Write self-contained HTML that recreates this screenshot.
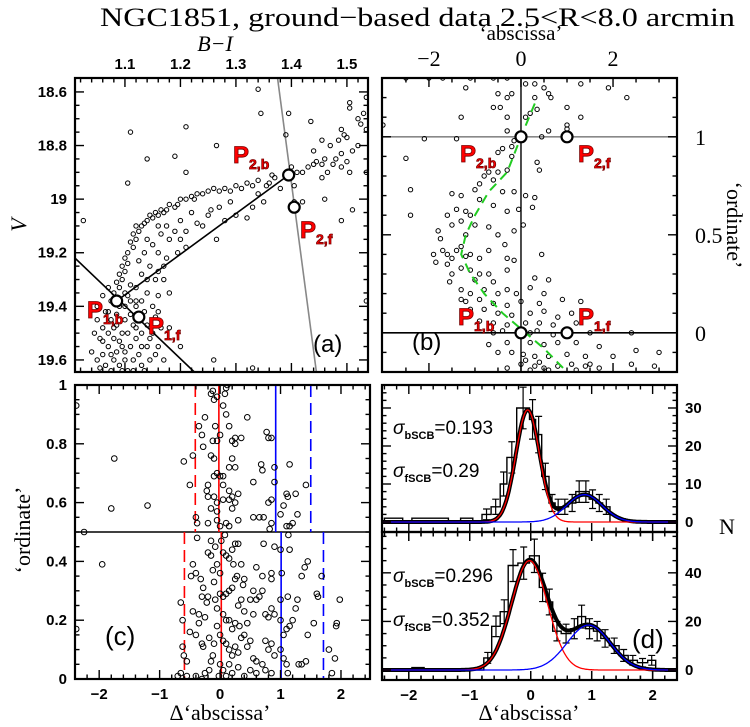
<!DOCTYPE html>
<html><head><meta charset="utf-8"><style>
html,body{margin:0;padding:0;background:#fff;}
svg{display:block;font-family:"Liberation Sans",sans-serif;}
.tl{font-weight:bold;font-size:15px;}
</style></head><body>
<svg id="fig" width="750" height="727" viewBox="0 0 750 727" xmlns="http://www.w3.org/2000/svg">
<text x="100" y="26" font-family="Liberation Serif, serif" font-size="26" textLength="635" lengthAdjust="spacingAndGlyphs">NGC1851, ground−based data 2.5&lt;R&lt;8.0 arcmin</text>
<text x="215" y="51" font-family="Liberation Serif, serif" font-style="italic" font-size="22" text-anchor="middle">B−I</text>
<text x="26" y="225" font-family="Liberation Serif, serif" font-style="italic" font-size="22" text-anchor="middle" transform="rotate(-90 26 225)">V</text>
<text x="521" y="40" font-family="Liberation Serif, serif" font-size="21" text-anchor="middle">‘abscissa’</text>
<text x="727" y="225" font-family="Liberation Serif, serif" font-size="22" text-anchor="middle" transform="rotate(90 727 225)">‘ordinate’</text>
<text x="30" y="530" font-family="Liberation Serif, serif" font-size="22" text-anchor="middle" transform="rotate(-90 30 530)">‘ordinate’</text>
<text x="220" y="720" font-family="Liberation Serif, serif" font-size="22" text-anchor="middle">Δ‘abscissa’</text>
<text x="529" y="720" font-family="Liberation Serif, serif" font-size="22" text-anchor="middle">Δ‘abscissa’</text>
<text x="727" y="534" font-family="Liberation Serif, serif" font-size="22" text-anchor="middle">N</text>
</svg>
<script>
// ---------- data ----------
const cmdBI=[1.34,1.345,1.11,1.21,1.14,1.265,1.19,1.21,1.395,1.39,1.435,1.105,1.025,1.26,1.33,1.535,1.51,1.49,1.46,
1.505,1.505,1.52,1.53,1.535,1.525,1.535,1.49,1.495,1.485,1.47,1.5,1.52,1.51,1.49,1.455,1.44,1.46,1.48,1.475,1.5,1.505,1.49,1.455,1.44,1.43,1.42,1.455,1.445,1.535,1.465,1.41,1.4,1.405,1.42,1.405,
1.37,1.36,1.365,1.355,1.34,1.33,1.32,1.31,1.3,1.29,1.28,1.27,1.26,1.25,1.24,1.23,1.225,1.22,1.21,1.2,1.195,1.19,1.18,1.175,1.17,1.165,1.16,1.155,1.15,1.145,1.14,1.135,1.13,1.125,1.12,1.115,1.12,1.11,1.115,1.105,1.1,1.105,1.095,1.1,1.09,1.095,1.085,1.09,1.08,1.085,
1.29,1.27,1.33,1.35,1.32,1.3,1.28,1.25,1.23,1.22,1.2,1.19,1.175,1.16,1.165,1.18,1.2,1.21,1.195,1.175,1.16,1.15,1.14,1.135,1.145,1.16,1.17,1.155,1.14,1.13,1.125,1.12,1.14,1.15,1.13,1.12,1.11,1.105,1.1,1.24,1.21,1.255,1.34,1.38,1.265,1.18,1.16,1.17,
1.04,1.05,1.05,1.055,1.06,1.06,1.065,1.065,1.07,1.07,1.075,1.075,1.08,1.08,1.085,1.085,1.085,1.09,1.09,1.095,1.095,1.1,1.1,1.1,1.105,1.105,1.11,1.11,1.115,1.115,1.12,1.12,1.125,1.125,1.13,1.13,1.135,1.14,1.14,1.145,1.15,1.155,1.16,1.165,1.17,1.05,1.06,1.07,1.045,1.055,1.075,1.095,1.115,1.135,1.1,1.09,1.08,1.07,1.06,1.075,1.11,1.12,1.13,1.145,1.155,1.16,1.2,1.18];
const cmdV=[18.59,18.68,18.75,18.73,18.85,18.8,18.84,18.9,18.68,18.76,18.71,18.94,19.08,19.6,19.63,19.38,19.04,19.08,19.0,
18.64,18.66,18.7,18.68,18.62,18.72,18.74,18.74,18.76,18.78,18.8,18.77,18.8,18.82,18.83,18.78,18.82,18.85,18.85,18.87,18.86,18.9,18.88,18.87,18.87,18.88,18.9,18.92,18.86,18.9,18.9,18.9,18.88,18.95,19.01,19.01,
18.92,18.94,18.91,18.95,18.93,18.95,18.94,18.96,18.95,18.97,18.96,18.97,18.96,18.97,18.98,18.98,19.0,18.99,19.0,19.0,19.02,19.03,19.02,19.04,19.05,19.04,19.06,19.05,19.07,19.06,19.08,19.09,19.1,19.12,19.1,19.13,19.15,19.16,19.18,19.2,19.22,19.24,19.25,19.27,19.28,19.3,19.31,19.33,19.35,19.37,
19.01,19.03,19.03,19.01,19.07,19.06,19.08,19.06,19.09,19.05,19.08,19.12,19.1,19.1,19.13,19.15,19.15,19.18,19.2,19.22,19.2,19.17,19.15,19.2,19.25,19.27,19.25,19.3,19.3,19.28,19.23,19.33,19.35,19.4,19.38,19.4,19.32,19.36,19.4,19.1,19.12,19.04,18.98,18.96,19.15,19.35,19.36,19.3,
19.57,19.45,19.6,19.52,19.48,19.58,19.62,19.42,19.5,19.55,19.38,19.45,19.6,19.52,19.43,19.47,19.57,19.62,19.4,19.5,19.55,19.45,19.6,19.35,19.5,19.64,19.43,19.55,19.47,19.6,19.52,19.38,19.58,19.45,19.5,19.62,19.42,19.55,19.47,19.6,19.5,19.44,19.55,19.48,19.6,19.4,19.36,19.33,19.5,19.63,19.64,19.64,19.64,19.64,19.57,19.53,19.48,19.42,19.53,19.58,19.38,19.48,19.55,19.52,19.58,19.42,19.55,19.48];
const cmdRefBI=[1.085,1.125,1.395,1.405];
const cmdRefV=[19.38,19.44,18.91,19.03];

const vbX=[-2.5,-2,-1.7,-1.1,-0.6,-0.3,0.1,0.3,0.5,0.6,0.65,-1.2,-0.5,-0.3,-0.2,0.3,0.35,0.2,0.1,-0.3,-0.6,-0.45,1.3,1.9,2.3,1.0,1.3,-1.3,-3.0,0.6,0.45,-2.1,-1.4,1.0,1.0,-0.3,-0.15,-0.2,
-2.5,-0.5,-0.4,-0.2,0.35,0.4,-0.3,-0.5,-0.7,-0.8,-0.6,-0.9,-1.0,-0.4,-0.15,-2.4,-1.5,-1.3,-0.9,-1.2,-1.1,-1.4,-1.6,0.1,0.3,-2.4,-0.6,-0.3,-0.05,0.25,-1.3,-1.5,-1.8,-1.75,-1.2,-1.0,-0.7,-0.5,-0.15,0.05,-1.7,-1.6,-1.5,-1.4,-1.3,-1.2,-1.9,-1.85,-1.6,-1.1,-0.9,-0.7,-0.35,-0.3,-0.15,0.45,-1.3,-1.1,-0.9,-1.5,-1.0,-0.7,-0.6,-0.3,-1.55,-1.3,-1.1,-0.8,-0.5,-0.3,-0.1,0.3,0.6,0.2,0.5,-1.3,-1.2,-0.9,-0.6,-0.3,0,0.4,0.9,1.3,-1.1,-0.8,-0.5,-0.2,0.2,0.5,0.8,1.1,-0.9,-0.6,-0.3,0.1,0.4,0.7,1.2,-0.6,-0.4,0.2,0.35,0.7,1.5,2.4,-0.7,-0.3,0.2,0.5,0.8,1.2,1.7,2.5,3.0,-0.5,-0.2,0.05,0.3,0.6,1.0,1.4,2.0,0.0,0.3,0.5,0.8,1.1,1.4,1.7,2.4,2.9,-0.3,0.2,0.6,1.2,1.5,0.1,0.4];
const vbY=[1.3,1.3,1.3,1.3,1.3,1.3,1.27,1.27,1.25,1.22,1.2,1.25,1.22,1.2,1.22,1.2,1.14,1.12,1.1,1.1,1.15,1.15,1.27,1.25,1.2,1.15,1.1,1.1,1.06,1.03,1.0,0.99,0.99,1.04,1.06,1.03,0.98,0.95,
0.89,0.92,0.94,0.9,0.87,0.83,0.83,0.82,0.82,0.8,0.78,0.76,0.73,0.72,0.72,0.73,0.71,0.7,0.68,0.62,0.6,0.63,0.6,0.7,0.69,0.6,0.65,0.62,0.63,0.64,0.57,0.55,0.52,0.48,0.5,0.55,0.54,0.5,0.52,0.55,0.42,0.4,0.38,0.42,0.44,0.39,0.4,0.36,0.35,0.4,0.38,0.42,0.45,0.38,0.37,0.4,0.33,0.32,0.3,0.3,0.27,0.3,0.26,0.32,0.26,0.22,0.2,0.22,0.2,0.22,0.2,0.28,0.27,0.23,0.2,0.17,0.16,0.17,0.15,0.14,0.16,0.15,0.17,0.16,0.12,0.12,0.1,0.09,0.1,0.11,0.08,0.1,0.06,0.05,0.04,0.05,0.05,0.04,0.05,0.0,0.01,0.0,0.01,-0.01,0.0,0.0,-0.06,-0.05,-0.05,-0.06,-0.05,-0.05,-0.07,-0.09,-0.1,-0.1,-0.1,-0.11,-0.12,-0.12,-0.11,-0.12,-0.12,-0.16,-0.17,-0.18,-0.17,-0.16,-0.17,-0.18,-0.16,-0.17,-0.18,-0.19,-0.19,-0.19,-0.16,-0.14,-0.15];
const ridgeX=[0.3,0,-0.3,-0.7,-1.0,-1.2,-1.3,-1.1,-0.8,-0.4,0,0.5,1.0];
const ridgeY=[1.17,1.0,0.82,0.72,0.6,0.5,0.4,0.3,0.2,0.1,0.02,-0.08,-0.2];
const refAX=[0,1,0,1];
const refAY=[1,1,0,0];

const cX=[-2.38,-1.75,-1.8,-1.2,-2.25,-0.6,-0.45,-0.5,-0.35,-0.3,-0.28,-0.4,-0.38,-0.2,-0.22,-0.15,-0.12,-0.1,-0.05,-0.08,-0.12,-0.15,-0.1,-0.05,0.0,0.05,0.1,0.15,0.2,0.25,0.25,0.35,0.45,0.1,0.12,0.08,-0.05,-0.1,0.0,0.05,-0.2,-0.1,-0.05,0.05,0.15,0.2,0.25,0.3,0.2,-0.05,-0.15,0.25,0.15,0.2,-0.05,-0.2,0.1,0.15,0.3,0.0,0.15,0.05,0.55,0.55,0.65,0.72,0.68,0.7,0.77,0.8,0.85,0.9,0.9,0.85,0.8,0.85,0.82,1.0,1.05,1.1,1.12,1.15,1.25,1.28,1.1,1.2,1.15,1.42,-0.25,
-1.95,-2.38,-0.65,-0.62,-0.62,-0.6,-0.55,-0.5,-0.48,-0.45,-0.45,-0.4,-0.38,-0.35,-0.3,-0.28,-0.25,-0.2,-0.2,-0.15,-0.12,-0.1,-0.08,-0.05,-0.05,-0.1,-0.12,-0.15,-0.18,-0.25,-0.3,-0.4,-0.55,-0.65,-0.7,-0.15,-0.08,-0.05,0.0,0.05,0.1,0.15,0.2,0.22,0.25,0.3,0.35,0.4,0.38,0.28,0.25,0.2,0.15,0.1,0.05,0.0,0.05,0.1,0.15,0.2,0.25,0.3,0.35,0.4,0.45,0.5,0.55,0.6,0.65,0.7,0.75,0.8,0.85,0.9,0.0,0.05,0.1,0.15,0.2,0.25,0.3,0.35,0.4,0.45,0.5,0.55,0.6,0.7,0.75,0.8,0.85,0.9,0.0,0.05,0.1,0.2,0.3,0.4,0.5,0.6,0.75,0.85,0.9,0.72,0.85,0.85,1.0,1.02,1.0,1.0,1.05,1.0,1.05,1.1,1.12,1.1,1.15,1.2,1.25,1.28,1.35,1.3,1.35,1.42,1.4,1.45,1.45,1.55,1.6,1.62,1.68,1.8,1.85,1.9,1.92,1.93,1.98,1.13,1.15,1.12,0.55,0.7,0.6,-0.3,-0.35,-0.4,-0.28,-0.22,-0.18,-0.32,0.02,0.08,-0.02,0.15,0.32];
const cY=[0.93,0.75,0.58,0.59,0.5,0.74,0.76,0.66,0.86,0.83,0.79,0.55,0.53,0.66,0.64,0.97,0.98,0.95,0.96,0.86,0.81,0.76,0.75,0.81,0.83,0.93,0.9,0.86,0.81,0.8,0.82,0.82,0.89,0.99,1.0,0.97,0.7,0.69,0.69,0.69,0.62,0.62,0.6,0.61,0.61,0.62,0.6,0.63,0.58,0.57,0.58,0.72,0.72,0.75,0.54,0.53,0.53,0.52,0.54,0.52,0.64,0.66,0.67,0.55,0.55,0.55,0.73,0.71,0.84,0.82,0.82,0.72,0.67,0.61,0.6,0.53,0.51,0.56,0.59,0.63,0.62,0.73,0.63,0.56,0.52,0.53,0.52,0.66,0.89,
0.39,0.17,0.26,0.2,0.11,0.08,0.06,0.16,0.35,0.39,0.23,0.36,0.48,0.19,0.12,0.11,0.21,0.28,0.43,0.42,0.37,0.33,0.27,0.24,0.18,0.12,0.08,0.06,0.03,0.02,0.0,0.01,0.01,0.02,0.01,0.47,0.45,0.39,0.36,0.43,0.42,0.41,0.44,0.39,0.46,0.46,0.39,0.34,0.32,0.35,0.34,0.31,0.3,0.29,0.28,0.29,0.22,0.2,0.2,0.17,0.19,0.25,0.27,0.23,0.19,0.27,0.22,0.27,0.28,0.3,0.22,0.21,0.24,0.22,0.15,0.13,0.12,0.1,0.08,0.11,0.09,0.14,0.15,0.11,0.13,0.07,0.06,0.05,0.13,0.1,0.12,0.08,0.05,0.03,0.01,0.02,0.04,0.01,0.03,0.02,0.03,0.02,0.45,0.46,0.36,0.34,0.44,0.36,0.27,0.2,0.15,0.1,0.07,0.05,0.02,0.17,0.18,0.2,0.24,0.27,0.35,0.05,0.05,0.06,0.38,0.4,0.15,0.19,0.29,0.28,0.35,0.1,0.02,0.07,0.18,0.19,0.27,0.49,0.44,0.28,0.3,0.35,0.38,0.28,0.22,0.15,0.31,0.26,0.14,0.34,0.47,0.49,0.01,0.05,0.18];
const cLineX=[-0.02,0.02,-0.41,-0.59,0.92,1.01,1.5,1.71];
const cLineLo=[0.5,0,0.5,0,0.5,0,0.5,0];
const cLineHi=[1,0.5,1,0.5,1,0.5,1,0.5];
const cLineColor=['red','red','red','red','blue','blue','blue','blue'];
const cLineDash=[0,0,1,1,0,0,1,1];

const hEdgesTop=[-2.4,-2.1,-1.95,-1.35,-1.15,-0.95,-0.8,-0.65,-0.5,-0.39,-0.23,-0.02,0.08,0.18,0.3,0.4,0.5,0.62,0.74,0.85,0.96,1.07,1.18,1.3];
const hCountsTop=[1,0,1,0,1,0,2,4,10,17,30,27,23,12,5,4,4,5,8,8,6,5,4];
const hEdgesBot=[-1.95,-1.75,-0.77,-0.64,-0.5,-0.37,-0.21,-0.02,0.14,0.25,0.36,0.5,0.66,0.77,0.9,1.03,1.15,1.29,1.45,1.6,1.75,1.92,2.05];
const hCountsBot=[1,0,5,18,24,43,44,47,34,28,16,15,17,22,17,16,13,10,6,4,3,4];
const fitTop=[29.5,-0.05,0.193,7.2,0.88,0.29];
const fitBot=[45,-0.02,0.296,18.5,0.95,0.352];

// ---------- helpers ----------
const NS='http://www.w3.org/2000/svg';
const svg=document.getElementById('fig');
function mk(tag,attrs,parent){const e=document.createElementNS(NS,tag);for(const k in attrs)e.setAttribute(k,attrs[k]);(parent||svg).appendChild(e);return e;}
const PA={x0:75,x1:368,y0:78,y1:372,xmin:1.01,xmax:1.538,ytop:18.548,ybot:19.645,id:'a'};
const PB={x0:382,x1:677,y0:78,y1:372,xmin:-3.02,xmax:3.39,ytop:1.30,ybot:-0.2,id:'b'};
const PC={x0:75,x1:370,y0:385,y1:679,xmin:-2.4,xmax:2.48,ytop:1,ybot:0,id:'c'};
const PD1={x0:382,x1:677,y0:385,y1:532,xmin:-2.44,xmax:2.4,ytop:36.05,ybot:-2.63,id:'d1'};
const PD2={x0:382,x1:677,y0:532,y1:680,xmin:-2.44,xmax:2.4,ytop:56.8,ybot:-4.1,id:'d2'};
function sx(p,v){return p.x0+(v-p.xmin)/(p.xmax-p.xmin)*(p.x1-p.x0);}
function sy(p,v){return p.y0+(p.ytop-v)/(p.ytop-p.ybot)*(p.y1-p.y0);}
const defs=mk('defs',{});
function panelGroup(p){
  const cp=mk('clipPath',{id:'clip-'+p.id},defs);
  mk('rect',{x:p.x0,y:p.y0,width:p.x1-p.x0,height:p.y1-p.y0},cp);
  const g=mk('g',{'clip-path':'url(#clip-'+p.id+')'});
  
  
  return g;
}
function frame(p){
  const r=mk('rect',{x:p.x0,y:p.y0,width:p.x1-p.x0,height:p.y1-p.y0,fill:'none',stroke:'#000','stroke-width':2.2});
  
  
}
function ticks(p,axis,major,minor,lo,hi,showLabels,labelSide,fmt){
  const g=mk('g',{stroke:'#000','stroke-width':1.4});
  
  
  const k0=Math.ceil(lo/minor-1e-6),k1=Math.floor(hi/minor+1e-6);
  for(let k=k0;k<=k1;k++){
    const v=k*minor;
    const isMaj=Math.abs(v/major-Math.round(v/major))<1e-6;
    const L=isMaj?9:4.5;
    if(axis==='x'){
      const x=sx(p,v); if(x<p.x0+1||x>p.x1-1)continue;
      mk('line',{x1:x,x2:x,y1:p.y1,y2:p.y1-L},g);
      mk('line',{x1:x,x2:x,y1:p.y0,y2:p.y0+L},g);
    } else {
      const y=sy(p,v); if(y<p.y0+1||y>p.y1-1)continue;
      mk('line',{x1:p.x0,x2:p.x0+L,y1:y,y2:y},g);
      mk('line',{x1:p.x1,x2:p.x1-L,y1:y,y2:y},g);
    }
  }
  if(!showLabels)return;
  const m0=Math.ceil(lo/major-1e-6),m1=Math.floor(hi/major+1e-6);
  for(let k=m0;k<=m1;k++){
    const v=k*major; let t;
    const s=fmt(v).replace('-','−');
    if(axis==='x'){
      const x=sx(p,v);
      if(labelSide==='top')t=mk('text',{x:x,y:p.y0-9,'text-anchor':'middle',class:'tl'});
      else t=mk('text',{x:x,y:p.y1+20,'text-anchor':'middle',class:'tl'});
    } else {
      const y=sy(p,v);
      if(labelSide==='left')t=mk('text',{x:p.x0-8,y:y+5,'text-anchor':'end',class:'tl'});
      else t=mk('text',{x:p.x1+8,y:y+5,'text-anchor':'start',class:'tl'});
    }
    t.textContent=s;
    
    
  }
}
function dots(p,g,xs,ys,name,r){
  for(let i=0;i<xs.length;i++){
    const c=mk('circle',{cx:sx(p,xs[i]),cy:sy(p,ys[i]),r:r,fill:'none',stroke:'#000','stroke-width':1},g);
    
    
  }
}
function pLabel(x,y,main,sub,name){
  const t=mk('text',{x:x,y:y,fill:'#f00',stroke:'#700','stroke-width':0.8,'font-size':24,'font-weight':'bold','font-family':'Liberation Sans, sans-serif'});
  
  
  t.textContent=main;
  const s=mk('tspan',{'font-size':14,dy:6},t);
  s.textContent=sub;
}
function plain(x,y,s,size,name,anchor){
  const t=mk('text',{x:x,y:y,'font-size':size,'text-anchor':anchor||'start'});
  
  
  t.textContent=s;
  return t;
}
const trim=v=>{const s=v.toFixed(1);return s.endsWith('.0')?s.slice(0,-2):s;};

// ---------- panel a ----------
{
  const g=panelGroup(PA);
  const l1=mk('line',{x1:sx(PA,cmdRefBI[0]),y1:sy(PA,cmdRefV[0]),x2:sx(PA,cmdRefBI[2]),y2:sy(PA,cmdRefV[2]),stroke:'#000','stroke-width':1.6},g);
  
  
  const l2=mk('line',{x1:sx(PA,1.01),y1:sy(PA,19.22),x2:sx(PA,1.225),y2:sy(PA,19.645),stroke:'#000','stroke-width':1.6},g);
  
  
  const l3=mk('line',{x1:sx(PA,1.375),y1:sy(PA,18.548),x2:sx(PA,1.445),y2:sy(PA,19.645),stroke:'#888','stroke-width':1.6},g);
  
  
  dots(PA,g,cmdBI,cmdV,'star-point',2.2);
  for(let i=0;i<4;i++){
    const c=mk('circle',{cx:sx(PA,cmdRefBI[i]),cy:sy(PA,cmdRefV[i]),r:5.5,fill:'#fff',stroke:'#000','stroke-width':2.2},g);
    
    
  }
  frame(PA);
  ticks(PA,'x',0.1,0.02,1.02,1.53,true,'top',v=>v.toFixed(1));
  ticks(PA,'y',0.2,0.05,18.55,19.64,true,'left',trim);
  pLabel(233,163,'P','2,b','label-p2b-a');
  pLabel(300,238,'P','2,f','label-p2f-a');
  pLabel(87,318,'P','1,b','label-p1b-a');
  pLabel(148,334,'P','1,f','label-p1f-a');
  plain(313,352,'(a)',24,'panel-label-a');
}
// ---------- panel b ----------
{
  const g=panelGroup(PB);
  const h1=mk('line',{x1:PB.x0,x2:PB.x1,y1:sy(PB,1),y2:sy(PB,1),stroke:'#888','stroke-width':1.6},g);
  
  
  const h0=mk('line',{x1:PB.x0,x2:PB.x1,y1:sy(PB,0),y2:sy(PB,0),stroke:'#000','stroke-width':1.6},g);
  
  
  const v0=mk('line',{x1:sx(PB,0),x2:sx(PB,0),y1:PB.y0,y2:PB.y1,stroke:'#000','stroke-width':1.4},g);
  
  
  dots(PB,g,vbX,vbY,'star-point',2.2);
  let d='';
  for(let i=0;i<ridgeX.length;i++)d+=(i?'L':'M')+sx(PB,ridgeX[i]).toFixed(1)+' '+sy(PB,ridgeY[i]).toFixed(1);
  const rl=mk('path',{d:d,fill:'none',stroke:'#2c2','stroke-width':2,'stroke-dasharray':'9 6'},g);
  
  
  for(let i=0;i<4;i++){
    const c=mk('circle',{cx:sx(PB,refAX[i]),cy:sy(PB,refAY[i]),r:5.5,fill:'#fff',stroke:'#000','stroke-width':2.2},g);
    
    
  }
  frame(PB);
  ticks(PB,'x',2,0.5,-3,3.3,false);
  for(const v of [-2,0,2]){
    const t=plain(sx(PB,v),PB.y0-12,String(v).replace('-','−'),22,'x-tick-label-b','middle');
    t.setAttribute('font-family','Liberation Serif, serif');
  }
  ticks(PB,'y',0.5,0.1,-0.2,1.3,false);
  for(const v of [0,0.5,1]){
    const t=plain(PB.x1+18,sy(PB,v)+8,String(v),22,'y-tick-label-b');
    t.setAttribute('font-family','Liberation Serif, serif');
  }
  pLabel(460,162,'P','2,b','label-p2b-b');
  pLabel(578,162,'P','2,f','label-p2f-b');
  pLabel(458,325,'P','1,b','label-p1b-b');
  pLabel(578,325,'P','1,f','label-p1f-b');
  plain(412,350,'(b)',24,'panel-label-b');
}
// ---------- panel c ----------
{
  const g=panelGroup(PC);
  const hl=mk('line',{x1:PC.x0,x2:PC.x1,y1:sy(PC,0.5),y2:sy(PC,0.5),stroke:'#000','stroke-width':1.6},g);
  
  
  for(let i=0;i<cLineX.length;i++){
    const l=mk('line',{x1:sx(PC,cLineX[i]),x2:sx(PC,cLineX[i]),y1:sy(PC,cLineHi[i]),y2:sy(PC,cLineLo[i]),stroke:cLineColor[i],'stroke-width':1.6},g);
    if(cLineDash[i])l.setAttribute('stroke-dasharray','12 6');
    
    
  }
  dots(PC,g,cX,cY,'star-point',2.8);
  frame(PC);
  ticks(PC,'x',1,0.2,-2.4,2.48,true,'bottom',v=>String(Math.round(v)));
  ticks(PC,'y',0.2,0.05,0,1,true,'left',trim);
  plain(105,645,'(c)',26,'panel-label-c');
}
// ---------- panel d ----------
function gauss(A,m,s,x){return A*Math.exp(-(x-m)*(x-m)/(2*s*s));}
function histPanel(p,edges,counts,fit,yMaj,yMin,yHi){
  const g=panelGroup(p);
  let d='M'+sx(p,edges[0])+' '+sy(p,0);
  for(let i=0;i<counts.length;i++){
    d+='L'+sx(p,edges[i]).toFixed(1)+' '+sy(p,counts[i]).toFixed(1)+'L'+sx(p,edges[i+1]).toFixed(1)+' '+sy(p,counts[i]).toFixed(1);
  }
  d+='L'+sx(p,edges[edges.length-1])+' '+sy(p,0);
  const h=mk('path',{d:d,fill:'none',stroke:'#000','stroke-width':1.4},g);
  
  
  for(let i=0;i<counts.length;i++){
    if(counts[i]<2)continue;
    const c=(edges[i]+edges[i+1])/2, e=Math.sqrt(counts[i]);
    const x=sx(p,c),ya=sy(p,counts[i]+e),yb=sy(p,counts[i]-e);
    const eb=mk('path',{d:`M${x} ${ya}L${x} ${yb}M${x-3.5} ${ya}L${x+3.5} ${ya}M${x-3.5} ${yb}L${x+3.5} ${yb}`,stroke:'#000','stroke-width':1.2,fill:'none'},g);
    
    
  }
  let pr='',pb='',pt='';
  for(let k=0;k<=300;k++){
    const x=p.xmin+(p.xmax-p.xmin)*k/300;
    const r=gauss(fit[0],fit[1],fit[2],x),b=gauss(fit[3],fit[4],fit[5],x);
    const X=sx(p,x).toFixed(1);
    pr+=(k?'L':'M')+X+' '+sy(p,r).toFixed(1);
    pb+=(k?'L':'M')+X+' '+sy(p,b).toFixed(1);
    pt+=(k?'L':'M')+X+' '+sy(p,r+b).toFixed(1);
  }
  const ct=mk('path',{d:pt,fill:'none',stroke:'#000','stroke-width':4},g);
  
  
  const cr=mk('path',{d:pr,fill:'none',stroke:'red','stroke-width':1.3},g);
  
  
  const cb=mk('path',{d:pb,fill:'none',stroke:'blue','stroke-width':1.3},g);
  
  
  frame(p);
  ticks(p,'x',1,0.2,-2.4,2.4,false);
  ticks(p,'y',yMaj,yMin,0,yHi,true,'right',v=>String(Math.round(v)));
}
histPanel(PD1,hEdgesTop,hCountsTop,fitTop,10,2,34);
histPanel(PD2,hEdgesBot,hCountsBot,fitBot,20,5,55);
ticks(PD2,'x',1,0.2,-2.4,2.4,true,'bottom',v=>String(Math.round(v)));
function sigmaText(x,y,sub,val,name){
  const t=mk('text',{x:x,y:y,'font-size':19,'font-family':'Liberation Sans, sans-serif'});
  
  
  const a=mk('tspan',{'font-style':'italic'},t);a.textContent='σ';
  const b=mk('tspan',{'font-size':11,'font-weight':'bold',dy:5},t);b.textContent=sub;
  const c=mk('tspan',{dy:-5},t);c.textContent='='+val;
}
sigmaText(393,434,'bSCB','0.193','sigma-bright-top');
sigmaText(393,477,'fSCB','0.29','sigma-faint-top');
sigmaText(393,582,'bSCB','0.296','sigma-bright-bottom');
sigmaText(393,626,'fSCB','0.352','sigma-faint-bottom');
plain(632,648,'(d)',26,'panel-label-d');
</script>
</body></html>
